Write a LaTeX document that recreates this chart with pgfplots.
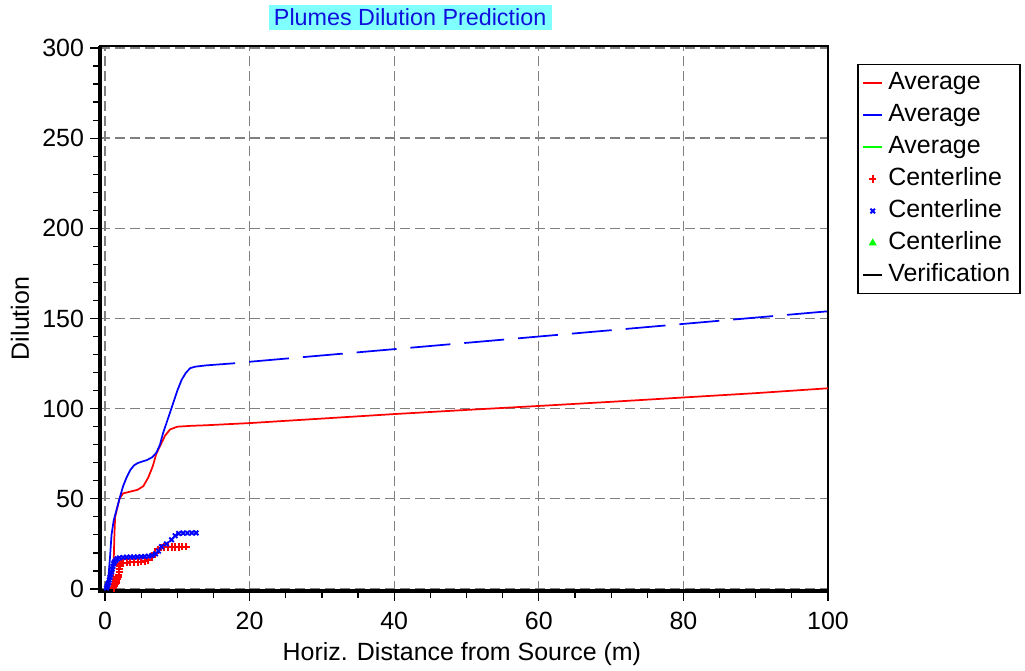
\documentclass[border=0pt]{standalone}
\usepackage{pgfplots}
\pgfplotsset{compat=1.18}
\usepackage{fontspec}
\setmainfont{Liberation Sans}
\definecolor{gridgray}{RGB}{128,128,128}
\definecolor{titlebg}{RGB}{128,255,255}
\definecolor{titlefg}{RGB}{16,16,220}
\begin{document}
\begin{tikzpicture}
\begin{axis}[
    scale only axis,
    width=546pt, height=408.75pt,
    xmin=-0.69, xmax=100,
    ymin=-1.1, ymax=301.1,
    xtick={0,20,40,60,80,100},
    ytick={0,50,100,150,200,250,300},
    minor x tick num=3,
    minor y tick num=4,
    tick pos=left,
    tick align=outside,
    major tick length=7.5pt,
    minor tick length=5pt,
    tick style={black, line width=0.9pt},
    grid=major,
    major grid style={gridgray, line width=1pt, dash pattern=on 7.5pt off 3.75pt},
    axis line style={black, line width=0.8pt},
    font=\fontsize{18.7}{22}\selectfont,
    /pgf/number format/assume math mode=true,
    xticklabel style={yshift=-5pt},
    yticklabel style={xshift=-1pt},
    xlabel={Horiz. Distance from Source (m)},
    ylabel={Dilution},
    xlabel style={at={(rel axis cs:0.497,-0.116)}, anchor=center},
    ylabel style={at={(rel axis cs:-0.11,0.5)}, anchor=center, rotate=0},
    clip=false,
    legend cell align=left,
    legend image code/.code={\draw[mark repeat=2,mark phase=2,#1] plot coordinates {(0pt,0pt) (7pt,0pt) (14pt,0pt)};},
    legend style={at={(rel axis cs:1.04,0.967)}, anchor=north west,
        draw=black, line width=1.1pt, inner xsep=3.5pt, inner ysep=5pt,
        font=\fontsize{18.7}{22}\selectfont,
        nodes={inner xsep=4pt, inner ysep=0pt, text height=13.5pt, text depth=4pt},
        row sep=6.5pt},
]
% picture frame, same size as the reference
\path (rel axis cs:-0.1374,-0.1431) rectangle (rel axis cs:1.2706,1.0844);

% Average, red
\addplot[red, line width=1.3pt] coordinates {
    (0,0) (0.8,0.5) (1.1,3) (1.2,15) (1.3,30) (1.4,40) (1.7,45) (2.0,50)
    (2.5,53) (3.5,54) (4.5,55) (5.3,57) (6.0,62) (6.6,68) (7.1,75) (7.7,80)
    (8.3,85) (9.0,88.5) (10,90) (12,90.5) (14,90.8) (20,92) (30,94.5)
    (40,97) (50,99.3) (60,101.5) (70,103.8) (80,106.2) (90,108.6) (100,111.3)
};
\addlegendentry{Average}
% Average, blue (near field)
\addplot[blue, line width=1.3pt] coordinates {
    (0,0) (0.3,2) (0.5,8) (0.7,18) (0.9,30) (1.2,38) (1.6,44) (2.0,50)
    (2.5,57) (3.0,62) (3.5,66) (4.0,68.5) (4.5,69.8) (5.0,70.5) (5.8,71.5)
    (6.5,73) (7.1,75.5) (7.6,80) (8.0,86) (8.5,92) (9.0,98) (9.5,104)
    (10.0,110) (10.6,116) (11.2,120) (11.8,122.5) (12.5,123.3) (14,124)
    (16,124.6) (18,125.2)
};
\addlegendentry{Average}
\addlegendimage{green, line width=1.3pt}
\addlegendentry{Average}
% Centerline, red
\addplot[red, only marks, mark=+, mark size=2.8pt, line width=1.5pt, mark options={red}] coordinates {
    (1.2,0.5) (1.3,1.5) (1.4,2.5) (1.5,3.5) (1.6,4.5) (1.7,5.5) (1.8,6.5)
    (1.9,8) (2.0,9.5) (2.0,11) (2.1,12.5) (2.1,13.5) (2.2,14.2) (2.5,14.5)
    (3,14.6) (3.5,14.7) (4,14.8) (4.5,15) (5,15.2) (5.5,15.5) (6,16)
    (6.5,17.5) (6.9,20) (7.3,22) (7.7,23) (8.2,23.2) (8.7,23.3) (9.2,23.3)
    (9.7,23.4) (10.2,23.4) (10.7,23.5) (11.2,23.5)
};
\addlegendentry{Centerline}
% Centerline, blue
\addplot[blue, only marks, mark=x, mark size=2.4pt, line width=1.4pt, mark options={blue}] coordinates {
    (0.2,0.5) (0.3,1.5) (0.4,2.5) (0.5,3.5) (0.6,5) (0.7,6.5) (0.8,8)
    (0.9,9.5) (1.0,11) (1.1,12.5) (1.2,14) (1.3,15) (1.5,16) (1.7,16.8)
    (2,17.3) (2.5,17.5) (3,17.6) (3.5,17.7) (4,17.7) (4.5,17.8) (5,17.9)
    (5.5,18) (6,18.2) (6.5,18.6) (7,19.5) (7.4,21) (7.8,23.5) (8.5,25)
    (9.2,27.3) (9.7,29.5) (10.2,30.8) (10.8,31) (11.4,31) (12,31.1) (12.6,31.1)
};
\addlegendentry{Centerline}
\addlegendimage{green, only marks, mark=triangle*, mark size=2.4pt}
\addlegendentry{Centerline}
\addlegendimage{black, line width=1.3pt}
\addlegendentry{Verification}
% Average, blue (far field, broken line)
\addplot[blue, line width=1.3pt, dash pattern=on 30pt off 10.5pt, dash phase=30pt, forget plot] coordinates {
    (18,125.2) (20,126) (30,129.5) (40,133) (50,136.5) (60,140)
    (70,143.5) (80,147) (90,150.5) (100,154)
};
% heavy left and bottom axis lines
\draw[black, line width=3pt] (rel axis cs:0,1) -- (rel axis cs:0,0) -- (rel axis cs:1,0);
% title
\node[fill=titlebg, text=titlefg, inner xsep=4pt, inner ysep=3pt,
      font=\fontsize{17.5}{20}\selectfont] at (rel axis cs:0.426,1.053)
      {Plumes Dilution Prediction};
\end{axis}
\end{tikzpicture}
\end{document}
